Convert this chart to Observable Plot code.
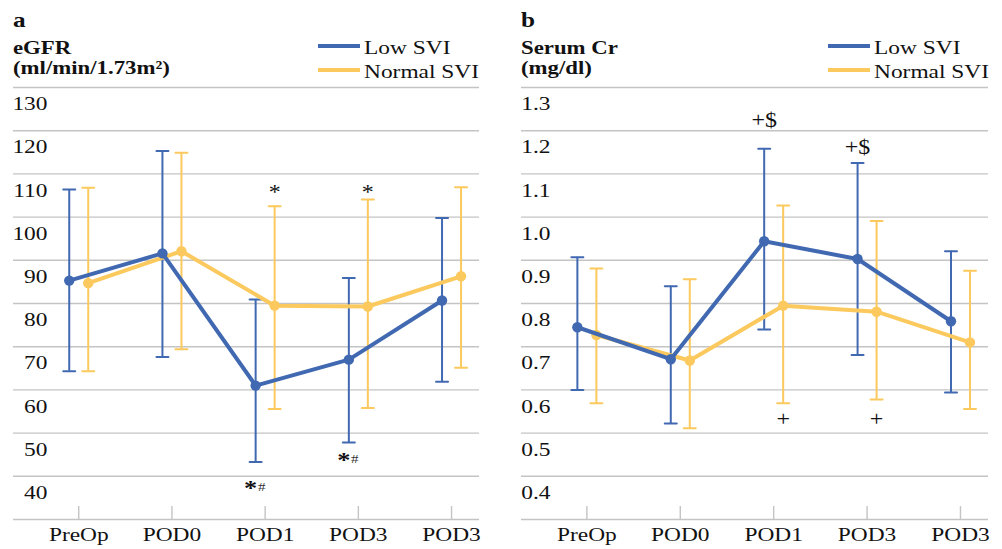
<!DOCTYPE html>
<html><head><meta charset="utf-8">
<script src="https://cdn.jsdelivr.net/npm/d3@7"></script>
<script src="https://cdn.jsdelivr.net/npm/@observablehq/plot@0.6"></script>
<style>
body{margin:0;background:#fff;font-family:"Liberation Serif","Times New Roman",serif;color:#111}
#wrap{position:relative;width:1002px;height:549px;overflow:hidden}
.panel{position:absolute;top:0;height:549px}
.hd{position:absolute;white-space:nowrap;line-height:1;font-size:19px;transform:scaleX(1.2);transform-origin:0 0}
.bold{font-weight:bold}
.sw{position:absolute;height:4px;width:42px}
.panel svg{position:absolute;top:80px;left:0}
</style></head><body><div id="wrap"></div>
<script>
// ---- categories & series ----
const timepoints = ["PreOp", "POD0", "POD1", "POD3", "POD3"];
const seriesNames = ["Low SVI", "Normal SVI"];
const seriesColors = ["#4169B1", "#FBC95D"];

// ---- panel a: eGFR (ml/min/1.73m²) ----
const egfrLowMean  = [85.3, 91.6, 61.0, 67.0, 80.7];
const egfrLowLo    = [64.3, 67.6, 43.3, 47.8, 61.9];
const egfrLowHi    = [106.4, 115.3, 80.9, 85.9, 99.8];
const egfrNormMean = [84.7, 92.1, 79.5, 79.3, 86.3];
const egfrNormLo   = [64.3, 69.4, 55.6, 55.8, 65.1];
const egfrNormHi   = [106.8, 114.9, 102.5, 104.1, 106.9];
const egfrTicks = [40, 50, 60, 70, 80, 90, 100, 110, 120, 130];
const egfrGrid  = [30, 40, 50, 60, 70, 80, 90, 100, 110, 120, 130];
// annotations: index, series, value, main mark, small suffix
const egfrNoteIdx    = [2, 3, 2, 3];
const egfrNoteSeries = ["Normal SVI", "Normal SVI", "Low SVI", "Low SVI"];
const egfrNoteY      = [105.6, 105.6, 37.4, 43.7];
const egfrNoteMain   = ["*", "*", "*", "*"];
const egfrNoteSuffix = ["", "", "#", "#"];

// ---- panel b: Serum Cr (mg/dl) ----
const crLowMean  = [0.745, 0.671, 0.944, 0.903, 0.759];
const crLowLo    = [0.600, 0.522, 0.740, 0.681, 0.594];
const crLowHi    = [0.907, 0.840, 1.158, 1.125, 0.921];
const crNormMean = [0.727, 0.668, 0.795, 0.781, 0.710];
const crNormLo   = [0.569, 0.511, 0.569, 0.578, 0.556];
const crNormHi   = [0.881, 0.856, 1.027, 0.991, 0.876];
const crTicks = [0.4, 0.5, 0.6, 0.7, 0.8, 0.9, 1.0, 1.1, 1.2, 1.3];
const crGrid  = [0.3, 0.4, 0.5, 0.6, 0.7, 0.8, 0.9, 1.0, 1.1, 1.2, 1.3];
const crNoteIdx    = [2, 3, 2, 3];
const crNoteSeries = ["Low SVI", "Low SVI", "Normal SVI", "Normal SVI"];
const crNoteY      = [1.224, 1.161, 0.531, 0.531];
const crNoteMain   = ["+$", "+$", "+", "+"];
const crNoteSuffix = ["", "", "", ""];

const FONT = "'Liberation Serif','Times New Roman',serif";
const STRETCH = 1.2; // the reference type is set horizontally wide
const lineShape = {draw(ctx, l) { ctx.moveTo(0, 0); ctx.lineTo(0, -l); }};
const SVG_H = 469, M_TOP = 7, M_BOTTOM = 30;

function rows(series, mean, lo, hi) {
  return timepoints.map((t, i) => ({i, series, mean: mean[i], lo: lo[i], hi: hi[i]}));
}

function buildPanel(cfg) {
  const wrap = document.getElementById("wrap");
  const p = document.createElement("div");
  p.className = "panel";
  p.style.left = cfg.left + "px";
  p.style.width = cfg.width + "px";
  wrap.appendChild(p);

  const add = (html, cls, x, y, extra = "") => {
    const d = document.createElement("div");
    d.className = cls;
    d.style.left = x + "px"; d.style.top = y + "px";
    if (extra) d.style.cssText += extra;
    d.innerHTML = html;
    p.appendChild(d);
  };
  add(cfg.letter, "hd bold", cfg.mL, 10, "font-size:21px");
  add(cfg.title[0], "hd bold", cfg.mL, 38);
  add(cfg.title[1], "hd bold", cfg.mL, 58);
  seriesNames.forEach((s, k) => {
    add("", "sw", cfg.legendX, [44, 68][k], "background:" + seriesColors[k] + ";transform:none");
    add(s, "hd", cfg.legendX + 46, [38, 62][k], "font-size:19.5px");
  });

  const data = [rows(seriesNames[0], ...cfg.low), rows(seriesNames[1], ...cfg.norm)];
  const off = [-9.5, 9.5];
  const idx = timepoints.map((t, i) => i);
  const frameH = SVG_H - M_TOP - M_BOTTOM;
  const marks = [
    Plot.gridY(cfg.grid, {stroke: "#c4c4c4", strokeOpacity: 1, strokeWidth: 1.4}),
    Plot.axisY(cfg.ticks, {tickSize: 0, tickPadding: 0, dx: cfg.labelDx, dy: 16.5,
      fontSize: 19.5, fill: "#111", tickFormat: cfg.fmt, label: null}),
    Plot.axisX(idx, {tickSize: 0, tickPadding: 8, fontSize: 19.5,
      fill: "#111", tickFormat: i => timepoints[i], label: null}),
    // short category ticks rising from the baseline
    Plot.ruleX(idx, {x: d => d, insetTop: frameH - 13, stroke: "#c4c4c4", strokeWidth: 1.4})
  ];
  // error bars (normal first, then low)
  for (const k of [1, 0]) {
    const col = seriesColors[k];
    marks.push(
      Plot.ruleX(data[k], {x: "i", y1: "lo", y2: "hi", dx: off[k], stroke: col, strokeWidth: 2}),
      Plot.vector(data[k], {x: "i", y: "hi", dx: off[k], length: 12, rotate: 90, anchor: "middle",
        shape: lineShape, stroke: col, strokeWidth: 2}),
      Plot.vector(data[k], {x: "i", y: "lo", dx: off[k], length: 12, rotate: 90, anchor: "middle",
        shape: lineShape, stroke: col, strokeWidth: 2})
    );
  }
  for (const k of [1, 0]) {
    const col = seriesColors[k];
    marks.push(
      Plot.line(data[k], {x: "i", y: "mean", dx: off[k], stroke: col, strokeWidth: 4,
        strokeLinejoin: "round"}),
      Plot.dot(data[k], {x: "i", y: "mean", dx: off[k], r: 5.2, fill: col})
    );
  }
  // annotations
  const notes = cfg.noteIdx.map((i, n) => ({i, series: cfg.noteSeries[n], y: cfg.noteY[n],
    main: cfg.noteMain[n], suffix: cfg.noteSuffix[n]}));
  seriesNames.forEach((s, k) => {
    const plain = notes.filter(d => d.series === s && !d.suffix);
    const suff = notes.filter(d => d.series === s && d.suffix);
    marks.push(
      Plot.text(plain, {x: "i", y: "y", text: "main", dx: off[k], fontSize: 20, fill: "#111"}),
      Plot.text(suff, {x: "i", y: "y", text: "main", dx: off[k] - 5, fontSize: 22, fill: "#111",
        fontWeight: "bold"}),
      Plot.text(suff, {x: "i", y: "y", text: "suffix", dx: off[k] + 6, dy: -1,
        fontSize: 12.5, fill: "#333"})
    );
  });

  const svg = Plot.plot({
    width: cfg.width, height: SVG_H,
    marginTop: M_TOP, marginBottom: M_BOTTOM, marginLeft: cfg.mL, marginRight: cfg.mR,
    style: {fontFamily: FONT, background: "transparent", overflow: "visible"},
    x: {type: "linear", domain: [-0.7, 4.3], label: null},
    y: {domain: [cfg.grid[0], cfg.grid[cfg.grid.length - 1]], label: null},
    marks
  });
  // widen glyphs around their anchor point, as in the reference typesetting
  svg.querySelectorAll("text").forEach(t => {
    const tr = t.getAttribute("transform");
    if (tr) t.setAttribute("transform", tr + ` scale(${STRETCH},1)`);
  });
  p.appendChild(svg);
}

buildPanel({
  left: 0, width: 500, mL: 13, mR: 21, letter: "a",
  title: ["eGFR", "(ml/min/1.73m²)"], legendX: 318, labelDx: 34,
  low: [egfrLowMean, egfrLowLo, egfrLowHi], norm: [egfrNormMean, egfrNormLo, egfrNormHi],
  ticks: egfrTicks, grid: egfrGrid, fmt: d => String(d),
  noteIdx: egfrNoteIdx, noteSeries: egfrNoteSeries, noteY: egfrNoteY,
  noteMain: egfrNoteMain, noteSuffix: egfrNoteSuffix
});
buildPanel({
  left: 500, width: 502, mL: 21, mR: 14, letter: "b",
  title: ["Serum Cr", "(mg/dl)"], legendX: 328, labelDx: 29,
  low: [crLowMean, crLowLo, crLowHi], norm: [crNormMean, crNormLo, crNormHi],
  ticks: crTicks, grid: crGrid, fmt: d => d.toFixed(1),
  noteIdx: crNoteIdx, noteSeries: crNoteSeries, noteY: crNoteY,
  noteMain: crNoteMain, noteSuffix: crNoteSuffix
});
</script></body></html>
